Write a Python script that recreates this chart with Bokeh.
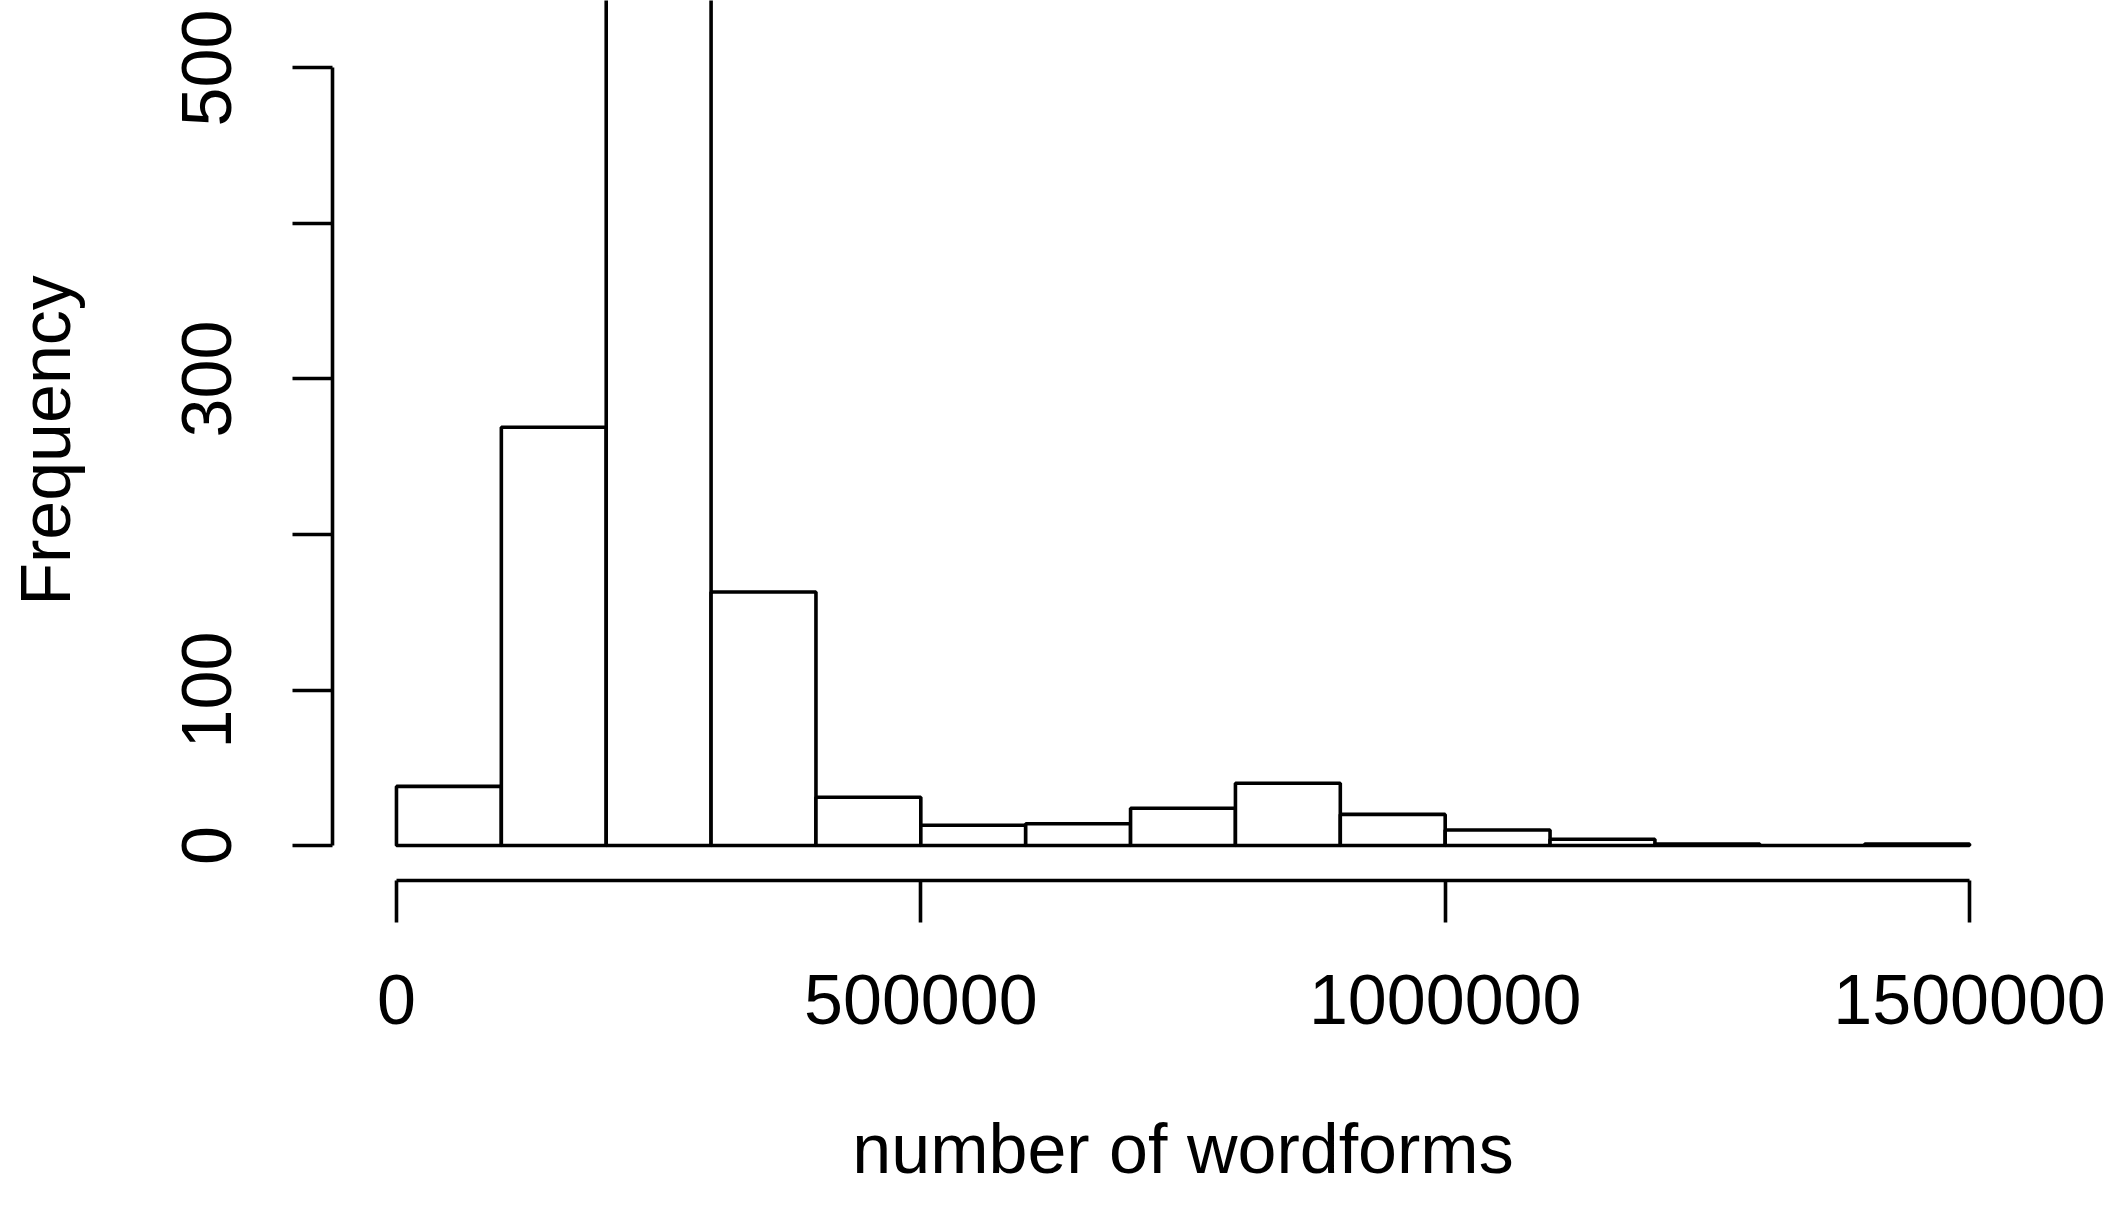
from bokeh.plotting import figure
from bokeh.models import Range1d, FixedTicker
from bokeh.embed import file_html
from bokeh.resources import INLINE

# ---- data ----
bin_left = [0, 100000, 200000, 300000, 400000, 500000, 600000, 700000,
            800000, 900000, 1000000, 1100000, 1200000, 1300000, 1400000]
bin_right = [100000, 200000, 300000, 400000, 500000, 600000, 700000, 800000,
             900000, 1000000, 1100000, 1200000, 1300000, 1400000, 1500000]
counts = [38, 269, 620, 163, 31, 13, 14, 24, 40, 20, 10, 4, 1, 0, 1]

x_ticks = [0, 500000, 1000000, 1500000]
x_tick_labels = ["0", "500000", "1000000", "1500000"]
y_ticks = [0, 100, 200, 300, 400, 500]
y_tick_labels = ["0", "100", "", "300", "", "500"]

FONT = "Liberation Sans"
FS = "70px"

p = figure(width=2109, height=1191, output_backend="svg", toolbar_location=None,
           x_range=Range1d(-61000, 1561000), y_range=Range1d(-22.5, 543.4),
           min_border_left=332, min_border_right=76, min_border_top=0,
           min_border_bottom=311)
p.background_fill_color = "white"
p.border_fill_color = "white"
p.outline_line_color = None
p.xgrid.visible = False
p.ygrid.visible = False

p.quad(left=bin_left, right=bin_right, bottom=0, top=counts,
       fill_color="white", line_color="black", line_width=3.6)

xa = p.xaxis[0]
xa.ticker = FixedTicker(ticks=x_ticks)
xa.major_label_overrides = {t: l for t, l in zip(x_ticks, x_tick_labels)}
xa.bounds = (0, 1500000)
xa.axis_label = "number of wordforms"

ya = p.yaxis[0]
ya.ticker = FixedTicker(ticks=y_ticks)
ya.major_label_overrides = {t: l for t, l in zip(y_ticks, y_tick_labels)}
ya.bounds = (0, 500)
ya.axis_label = "Frequency"
ya.major_label_orientation = "vertical"

for ax in (xa, ya):
    ax.axis_line_color = "black"
    ax.axis_line_width = 3.6
    ax.major_tick_line_color = "black"
    ax.major_tick_line_width = 3.6
    ax.major_tick_in = 0
    ax.minor_tick_line_color = None
    ax.major_label_text_font = FONT
    ax.major_label_text_font_size = FS
    ax.major_label_text_color = "black"
    ax.axis_label_text_font = FONT
    ax.axis_label_text_font_size = FS
    ax.axis_label_text_font_style = "normal"
    ax.axis_label_text_color = "black"
    ax.major_label_text_line_height = 1.0
    ax.axis_label_text_line_height = 1.0

xa.major_tick_out = 42
xa.major_label_standoff = 52
xa.axis_label_standoff = 83
ya.major_tick_out = 40
ya.major_label_standoff = 61
ya.axis_label_standoff = 95

open("out.html", "w").write(file_html(p, INLINE))
